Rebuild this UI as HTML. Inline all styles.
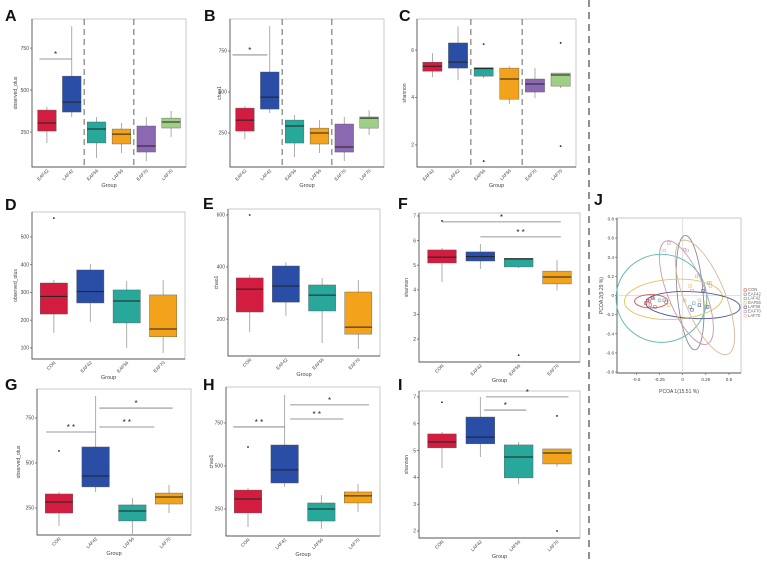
<!DOCTYPE html>
<html><head><meta charset="utf-8"><title>Alpha diversity and PCoA</title>
<style>
html,body{margin:0;padding:0;background:#fff;}
svg{display:block;font-family:"Liberation Sans",sans-serif;}
</style></head>
<body>
<svg id="fig" width="767" height="561" viewBox="0 0 767 561" xmlns="http://www.w3.org/2000/svg"></svg>
<script>
// ---------- DATA ----------
const groupsA = ["EAF42","LAF42","EAF56","LAF56","EAF70","LAF70"];
const statsA = [[185,256,304,381,399],[339,369,428,583,880],[95,185,268,310,339],[125,179,238,268,304],[77,131,167,286,339],[220,274,310,333,375]];
const outA = [[],[],[],[],[],[]];
const ticksA = [250,500,750];

const groupsB = ["EAF42","LAF42","EAF56","LAF56","EAF70","LAF70"];
const statsB = [[213,262,329,402,415],[372,396,469,622,902],[104,189,293,329,360],[128,183,250,280,329],[79,134,165,305,348],[238,280,341,348,390]];
const outB = [[],[],[],[],[],[]];
const ticksB = [250,500,750];

const groupsC = ["EAF42","LAF42","EAF56","LAF56","EAF70","LAF70"];
const statsC = [[4.86,5.11,5.32,5.49,5.87],[4.73,5.24,5.49,6.3,7.0],[4.82,4.9,5.22,5.26,5.26],[3.72,3.93,4.78,5.24,5.32],[3.97,4.23,4.57,4.78,5.24],[4.4,4.48,4.95,5.03,5.03]];
const outC = [[],[],[6.25,1.32],[],[],[6.3,1.95]];
const ticksC = [2,4,6];

const groupsD = ["CON","EAF42","EAF56","EAF70"];
const statsD = [[154,222,286,334,345],[194,262,303,381,403],[100,190,269,309,341],[82,140,168,291,345]];
const outD = [[568],[],[],[]];
const ticksD = [100,200,300,400,500];

const groupsE = ["CON","EAF42","EAF56","EAF70"];
const statsE = [[150,227,315,358,369],[212,265,327,404,419],[108,231,292,331,358],[85,142,169,304,350]];
const outE = [[600],[],[],[]];
const ticksE = [200,400,600];

const groupsF = ["CON","EAF42","EAF56","EAF70"];
const statsF = [[4.32,5.09,5.33,5.62,5.7],[4.85,5.17,5.35,5.54,5.86],[4.88,4.93,5.25,5.28,5.28],[3.97,4.24,4.52,4.76,5.2]];
const outF = [[6.8],[],[1.35],[]];
const ticksF = [2,3,4,5,6,7];

const groupsG = ["CON","LAF42","LAF56","LAF70"];
const statsG = [[150,222,283,328,339],[339,367,428,589,872],[106,178,233,267,306],[222,272,311,333,378]];
const outG = [[567],[],[],[]];
const ticksG = [250,500,750];

const groupsH = ["CON","LAF42","LAF56","LAF70"];
const statsH = [[145,227,308,360,372],[378,401,477,622,913],[134,180,250,285,331],[233,285,326,349,395]];
const outH = [[610],[],[],[]];
const ticksH = [250,500,750];

const groupsI = ["CON","LAF42","LAF56","LAF70"];
const statsI = [[4.35,5.1,5.32,5.62,5.69],[4.76,5.25,5.5,6.25,7.0],[3.75,3.98,4.76,5.21,5.32],[4.39,4.5,4.91,5.06,5.06]];
const outI = [[6.8],[],[],[6.29,2.0]];
const ticksI = [2,3,4,5,6,7];

// significance brackets: [fromIndex, toIndex, yValue, label]
const sigA = [[-0.3,1,685,"*"]];
const sigB = [[-0.5,0.9,726,"*"]];
const sigF = [[0,3.1,6.76,"*"],[1,3.1,6.15,"* *"]];
const sigG = [[-0.35,1,672,"* *"],[1.1,2.6,700,"* *"],[1.1,3.1,805,"*"]];
const sigH = [[-0.4,1,727,"* *"],[1.15,2.6,773,"* *"],[1.15,3.3,855,"*"]];
const sigI = [[1.1,2.2,6.51,"*"],[1.15,3.3,7.0,"*"]];

// PCoA (J)
const pcoaGroups = ["CON","EAF42","LAF42","EAF56","LAF56","EAF70","LAF70"];
const pcoaX = [
 [-0.38,-0.35,-0.32,-0.4,-0.3,-0.36],
 [-0.18,-0.2,-0.33,0.08],
 [-0.25,0.25,0.12],
 [0.02,0.25,-0.15,0.08,0.3],
 [0.1,0.18,0.27,0.22],
 [-0.15,0.02,0.28,0.1],
 [-0.2,0.05,0.3,0.15,0.18]];
const pcoaY = [
 [-0.05,-0.1,-0.03,-0.08,-0.12,-0.06],
 [-0.07,-0.05,-0.02,-0.12],
 [-0.05,-0.12,-0.08],
 [-0.05,-0.08,-0.1,0.1,0.1],
 [-0.15,-0.1,-0.12,0.05],
 [0.55,0.48,0.13,0.05],
 [0.47,0.47,0.13,0.2,-0.05]];
const ellCx = [-0.34,0.08,-0.23,-0.1,0.11,0.04,0.24];
const ellCy = [-0.06,0.03,-0.03,-0.04,-0.1,0.03,-0.02];
const ellRx = [0.18,0.14,0.49,0.53,0.51,0.2,0.22];
const ellRy = [0.07,0.6,0.46,0.21,0.14,0.58,0.64];
const ellRot = [0,-5,0,-3,3,-22,-22];
const pcoaTicksX = [-0.5,-0.25,0,0.25,0.5];
const pcoaTicksY = [-0.8,-0.6,-0.4,-0.2,0,0.2,0.4,0.6,0.8];

// ---------- STYLE / LAYOUT ----------
const boxColors = {EAF42:"#d31d40",LAF42:"#2a4da6",EAF56:"#27a89b",LAF56:"#f3a21c",EAF70:"#8c68b3",LAF70:"#9fcf85",CON:"#d31d40"};
const col3Colors = ["#d31d40","#2a4da6","#27a89b","#f3a21c"];
const pcoaColors = ["#d9534f","#8a8a9a","#5fb8b0","#e8c25a","#4a5890","#c99ab5","#d8b99a"];
const NS = "http://www.w3.org/2000/svg";
const svg = document.getElementById("fig");

function el(tag, parent){ const e=document.createElementNS(NS,tag); parent.appendChild(e); return e; }
function attrs(e,o){ for(const k in o) e.setAttribute(k,o[k]); return e; }

const panels = [
 {id:"a",letter:"A",lx:5,ly:21,x0:32,x1:186,y0:19,y1:167,vmin:42,vmax:923,groups:groupsA,stats:statsA,out:outA,ticks:ticksA,sig:sigA,ytitle:"observed_otus",tx:17,seps:[1.5,3.5],colors:null},
 {id:"b",letter:"B",lx:204,ly:21,x0:230,x1:384,y0:19,y1:167,vmin:43,vmax:945,groups:groupsB,stats:statsB,out:outB,ticks:ticksB,sig:sigB,ytitle:"chao1",tx:221,seps:[1.5,3.5],colors:null},
 {id:"c",letter:"C",lx:399,ly:21,x0:417,x1:576,y0:19,y1:167,vmin:1.07,vmax:7.31,groups:groupsC,stats:statsC,out:outC,ticks:ticksC,sig:[],ytitle:"shannon",tx:406,seps:[1.5,3.5],colors:null},
 {id:"d",letter:"D",lx:5,ly:210,x0:32,x1:185,y0:212,y1:359,vmin:60,vmax:590,groups:groupsD,stats:statsD,out:outD,ticks:ticksD,sig:[],ytitle:"observed_otus",tx:17,seps:[],colors:col3Colors},
 {id:"e",letter:"E",lx:203,ly:209,x0:228,x1:380,y0:209,y1:356,vmin:58,vmax:623,groups:groupsE,stats:statsE,out:outE,ticks:ticksE,sig:[],ytitle:"chao1",tx:218,seps:[],colors:col3Colors},
 {id:"f",letter:"F",lx:398,ly:209,x0:419,x1:580,y0:213,y1:362,vmin:1.07,vmax:7.12,groups:groupsF,stats:statsF,out:outF,ticks:ticksF,sig:sigF,ytitle:"shannon",tx:408,seps:[],colors:col3Colors},
 {id:"g",letter:"G",lx:5,ly:390,x0:37,x1:191,y0:389,y1:535,vmin:100,vmax:911,groups:groupsG,stats:statsG,out:outG,ticks:ticksG,sig:sigG,ytitle:"observed_otus",tx:20,seps:[],colors:col3Colors},
 {id:"h",letter:"H",lx:203,ly:390,x0:226,x1:380,y0:387,y1:536,vmin:93,vmax:959,groups:groupsH,stats:statsH,out:outH,ticks:ticksH,sig:sigH,ytitle:"chao1",tx:213,seps:[],colors:col3Colors},
 {id:"i",letter:"I",lx:398,ly:390,x0:419,x1:580,y0:391,y1:538,vmin:1.74,vmax:7.22,groups:groupsI,stats:statsI,out:outI,ticks:ticksI,sig:sigI,ytitle:"shannon",tx:408,seps:[],colors:col3Colors}
];

function xPos(P,i){ const n=P.groups.length; return P.x0 + (i+0.6)*(P.x1-P.x0)/(n+0.2); }
function yPos(P,v){ return P.y1 - (v-P.vmin)/(P.vmax-P.vmin)*(P.y1-P.y0); }

panels.forEach(P=>{
  const g = el("g",svg);
  
  
  const lt = el("text",g); attrs(lt,{x:P.lx,y:P.ly,"font-size":16,"font-weight":"bold",fill:"#111"}); lt.textContent=P.letter;
  
  
  const bg = el("rect",g); attrs(bg,{x:P.x0,y:P.y0,width:P.x1-P.x0,height:P.y1-P.y0,fill:"#fff",stroke:"#c4c4c4","stroke-width":0.9});
  
  
  const ax = el("path",g); attrs(ax,{d:`M${P.x0},${P.y0} V${P.y1} H${P.x1}`,stroke:"#555",fill:"none","stroke-width":0.9});
  
  
  P.ticks.forEach(t=>{
    const y=yPos(P,t);
    const tk=el("line",g); attrs(tk,{x1:P.x0-2,x2:P.x0,y1:y,y2:y,stroke:"#555","stroke-width":0.7});
    
    
    const tl=el("text",g); attrs(tl,{x:P.x0-3,y:y+1.7,"font-size":5,"text-anchor":"end",fill:"#444"}); tl.textContent=t;
    
    
  });
  const yt=el("text",g); const cy=(P.y0+P.y1)/2;
  attrs(yt,{x:P.tx,y:cy,"font-size":5,"text-anchor":"middle",fill:"#444",transform:`rotate(-90 ${P.tx} ${cy})`}); yt.textContent=P.ytitle;
  
  
  const xt=el("text",g); attrs(xt,{x:(P.x0+P.x1)/2,y:P.y1+20,"font-size":5.5,"text-anchor":"middle",fill:"#444"}); xt.textContent="Group";
  
  
  const bw = 0.75*(P.x1-P.x0)/(P.groups.length+0.2);
  P.groups.forEach((grp,i)=>{
    const s=P.stats[i], cx=xPos(P,i);
    const color = P.colors ? P.colors[i] : boxColors[grp];
    const wl=el("line",g); attrs(wl,{x1:cx,x2:cx,y1:yPos(P,s[4]),y2:yPos(P,s[0]),stroke:"#999","stroke-width":0.8});
    
    
    const bx=el("rect",g); attrs(bx,{x:cx-bw/2,y:yPos(P,s[3]),width:bw,height:yPos(P,s[1])-yPos(P,s[3]),fill:color,stroke:"#555","stroke-width":0.4});
    
    
    const md=el("line",g); attrs(md,{x1:cx-bw/2,x2:cx+bw/2,y1:yPos(P,s[2]),y2:yPos(P,s[2]),stroke:"#222","stroke-width":1});
    
    
    P.out[i].forEach(o=>{
      const d=el("circle",g); attrs(d,{cx:cx,cy:yPos(P,o),r:0.9,fill:"#222"});
      
      
    });
    const lx=cx+2, ly=P.y1+4;
    const xl=el("text",g); attrs(xl,{x:lx,y:ly,"font-size":4.6,"text-anchor":"end",fill:"#444",transform:`rotate(-45 ${lx} ${ly})`}); xl.textContent=grp;
    
    
  });
  P.seps.forEach(k=>{
    const x=xPos(P,k);
    const sl=el("line",g); attrs(sl,{x1:x,x2:x,y1:P.y0,y2:P.y1,stroke:"#666","stroke-width":1,"stroke-dasharray":"6,4"});
    
    
  });
  P.sig.forEach(sg=>{
    const xa=xPos(P,sg[0]), xb=xPos(P,sg[1]), y=yPos(P,sg[2]);
    const sl=el("line",g); attrs(sl,{x1:xa,x2:xb,y1:y,y2:y,stroke:"#777","stroke-width":0.8});
    
    
    const st=el("text",g); attrs(st,{x:(xa+xb)/2,y:y-2,"font-size":8,"text-anchor":"middle",fill:"#222"}); st.textContent=sg[3];
    
    
  });
});

const dv=el("line",svg); attrs(dv,{x1:589,x2:589,y1:0,y2:561,stroke:"#555","stroke-width":1.3,"stroke-dasharray":"7,5"});



// ---------- PANEL J ----------
const J = {x0:617,x1:741,y0:218,y1:373,xmin:-0.71,xmax:0.63,ymin:-0.81,ymax:0.81};
function jx(v){ return J.x0+(v-J.xmin)/(J.xmax-J.xmin)*(J.x1-J.x0); }
function jy(v){ return J.y1-(v-J.ymin)/(J.ymax-J.ymin)*(J.y1-J.y0); }
const gj=el("g",svg);


const jl=el("text",gj); attrs(jl,{x:594,y:205,"font-size":16,"font-weight":"bold",fill:"#111"}); jl.textContent="J";


const jr=el("rect",gj); attrs(jr,{x:J.x0,y:J.y0,width:J.x1-J.x0,height:J.y1-J.y0,fill:"#fff",stroke:"#c4c4c4","stroke-width":0.9});


const jax=el("path",gj); attrs(jax,{d:`M${J.x0},${J.y0} V${J.y1} H${J.x1}`,stroke:"#555",fill:"none","stroke-width":0.9});


const z1=el("line",gj); attrs(z1,{x1:jx(0),x2:jx(0),y1:J.y0,y2:J.y1,stroke:"#d8d8d8","stroke-width":0.8});


const z2=el("line",gj); attrs(z2,{x1:J.x0,x2:J.x1,y1:jy(0),y2:jy(0),stroke:"#d8d8d8","stroke-width":0.8});


pcoaTicksY.forEach(t=>{
  const y=jy(t);
  const tk=el("line",gj); attrs(tk,{x1:J.x0-2,x2:J.x0,y1:y,y2:y,stroke:"#555","stroke-width":0.6});
  
  
  const tl=el("text",gj); attrs(tl,{x:J.x0-3,y:y+1.6,"font-size":4.6,"text-anchor":"end",fill:"#444"}); tl.textContent=(t===0?"0":t.toFixed(1));
  
  
});
pcoaTicksX.forEach(t=>{
  const x=jx(t);
  const tk=el("line",gj); attrs(tk,{x1:x,x2:x,y1:J.y1,y2:J.y1+2,stroke:"#555","stroke-width":0.6});
  
  
  const tl=el("text",gj); attrs(tl,{x:x,y:J.y1+8,"font-size":4.6,"text-anchor":"middle",fill:"#444"}); tl.textContent=String(t);
  
  
});
const jxt=el("text",gj); attrs(jxt,{x:(J.x0+J.x1)/2,y:393,"font-size":5,"text-anchor":"middle",fill:"#444"}); jxt.textContent="PCOA 1(15.51 %)";


const jyt=el("text",gj); const jcy=(J.y0+J.y1)/2;
attrs(jyt,{x:603,y:jcy,"font-size":5,"text-anchor":"middle",fill:"#444",transform:`rotate(-90 603 ${jcy})`}); jyt.textContent="PCOA 2(9.29 %)";


const sx=(J.x1-J.x0)/(J.xmax-J.xmin), sy=(J.y1-J.y0)/(J.ymax-J.ymin);
pcoaGroups.forEach((grp,k)=>{
  const c=pcoaColors[k];
  const ex=jx(ellCx[k]), ey=jy(ellCy[k]);
  const e=el("ellipse",gj); attrs(e,{cx:ex,cy:ey,rx:ellRx[k]*sx,ry:ellRy[k]*sy,fill:"none",stroke:c,"stroke-width":0.9,transform:`rotate(${ellRot[k]} ${ex} ${ey})`});
  
  
  pcoaX[k].forEach((v,i)=>{
    const p=el("rect",gj); attrs(p,{x:jx(v)-1.3,y:jy(pcoaY[k][i])-1.3,width:2.6,height:2.6,fill:"none",stroke:c,"stroke-width":0.6});
    
    
  });
  const ly=291+k*4.3;
  const ls=el("rect",gj); attrs(ls,{x:744,y:ly-2.2,width:2.4,height:2.4,fill:"none",stroke:c,"stroke-width":0.6});
  
  
  const lt=el("text",gj); attrs(lt,{x:748,y:ly,"font-size":4.2,fill:"#666"}); lt.textContent=grp;
  
  
});
</script>
</body></html>
